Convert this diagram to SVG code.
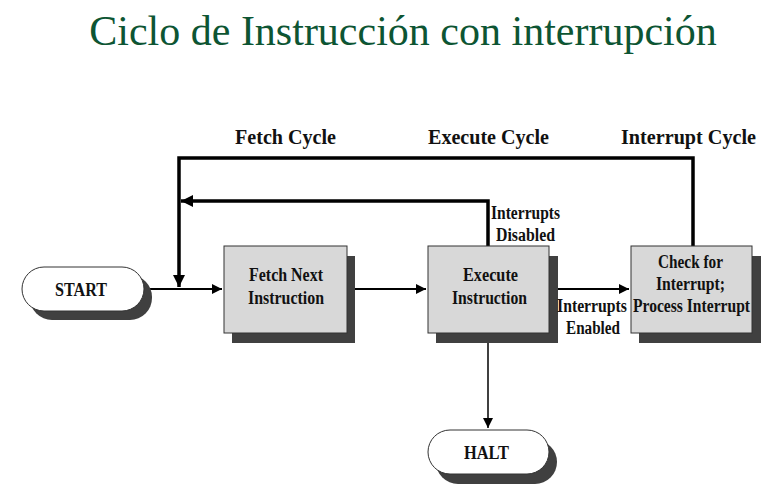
<svg xmlns="http://www.w3.org/2000/svg" width="784" height="502" viewBox="0 0 784 502">
<style>
.title{font-family:"Liberation Serif",serif;font-size:42px;fill:#0d5533}
.lbl{font-family:"Liberation Serif",serif;font-weight:bold;font-size:21px;fill:#111}
.t{font-family:"Liberation Serif",serif;font-weight:bold;font-size:18px;fill:#111}
.box{fill:#d8d8d8;stroke:#333;stroke-width:1}
.pill{fill:#fff;stroke:#333;stroke-width:1}
.sh{fill:#404040}
.thick{fill:none;stroke:#000;stroke-width:3.5}
.thin{fill:none;stroke:#000;stroke-width:2}
</style>
<defs>
<marker id="ah" viewBox="0 0 10 10" refX="10" refY="5" markerWidth="10" markerHeight="10" markerUnits="userSpaceOnUse" orient="auto">
<path d="M0,0 L10,5 L0,10 Z" fill="#000"/>
</marker>
<marker id="ahb" viewBox="0 0 10 10" refX="10" refY="5" markerWidth="12" markerHeight="12" markerUnits="userSpaceOnUse" orient="auto">
<path d="M0,0 L10,5 L0,10 Z" fill="#000"/>
</marker>
</defs>
<rect width="784" height="502" fill="#fff"/>
<text class="title" x="403" y="45" text-anchor="middle">Ciclo de Instrucción con interrupción</text>
<text class="lbl" x="235" y="144" textLength="101" lengthAdjust="spacingAndGlyphs">Fetch Cycle</text>
<text class="lbl" x="428" y="144" textLength="121" lengthAdjust="spacingAndGlyphs">Execute Cycle</text>
<text class="lbl" x="621" y="144" textLength="135" lengthAdjust="spacingAndGlyphs">Interrupt Cycle</text>
<g id="connectors">
<path class="thin" d="M144,289 H222" marker-end="url(#ah)"/>
<path class="thin" d="M347,289 H426" marker-end="url(#ah)"/>
<path class="thin" d="M549,289 H629" marker-end="url(#ah)"/>
<path fill="none" stroke="#000" stroke-width="1.5" d="M488,333 V428" marker-end="url(#ah)"/>
<path class="thick" d="M693,246 V158 H179 V287" marker-end="url(#ahb)"/>
<path class="thick" d="M488,246 V201 H181" marker-end="url(#ahb)"/>
</g>
<g id="start">
<rect class="sh" x="30" y="275" width="122" height="45" rx="22"/>
<rect class="pill" x="22" y="267" width="122" height="44" rx="22"/>
<text class="t" x="55" y="296" textLength="52" lengthAdjust="spacingAndGlyphs">START</text>
</g>
<g id="fetch">
<rect class="sh" x="232" y="256" width="123" height="87"/>
<rect class="box" x="224" y="246" width="123" height="87"/>
<text class="t" x="249" y="281" textLength="74" lengthAdjust="spacingAndGlyphs">Fetch Next</text>
<text class="t" x="248" y="304" textLength="76" lengthAdjust="spacingAndGlyphs">Instruction</text>
</g>
<g id="execute">
<rect class="sh" x="436" y="256" width="122" height="87"/>
<rect class="box" x="428" y="246" width="121" height="87"/>
<text class="t" x="463" y="281" textLength="55" lengthAdjust="spacingAndGlyphs">Execute</text>
<text class="t" x="452" y="304" textLength="75" lengthAdjust="spacingAndGlyphs">Instruction</text>
</g>
<g id="check">
<rect class="sh" x="639" y="256" width="122" height="87"/>
<rect class="box" x="631" y="246" width="121" height="87"/>
<text class="t" x="658" y="268" textLength="65" lengthAdjust="spacingAndGlyphs">Check for</text>
<text class="t" x="656" y="290" textLength="69" lengthAdjust="spacingAndGlyphs">Interrupt;</text>
<text class="t" x="633" y="312" textLength="117" lengthAdjust="spacingAndGlyphs">Process Interrupt</text>
</g>
<g id="halt">
<rect class="sh" x="436" y="440" width="121" height="44" rx="22"/>
<rect class="pill" x="428" y="430" width="121" height="44" rx="22"/>
<text class="t" x="464" y="459" textLength="45" lengthAdjust="spacingAndGlyphs">HALT</text>
</g>
<g id="labels">
<text class="t" x="491" y="219" textLength="69" lengthAdjust="spacingAndGlyphs">Interrupts</text>
<text class="t" x="496" y="241" textLength="59" lengthAdjust="spacingAndGlyphs">Disabled</text>
<text class="t" x="557" y="312" textLength="70" lengthAdjust="spacingAndGlyphs">Interrupts</text>
<text class="t" x="566" y="334" textLength="54" lengthAdjust="spacingAndGlyphs">Enabled</text>
</g>
</svg>
